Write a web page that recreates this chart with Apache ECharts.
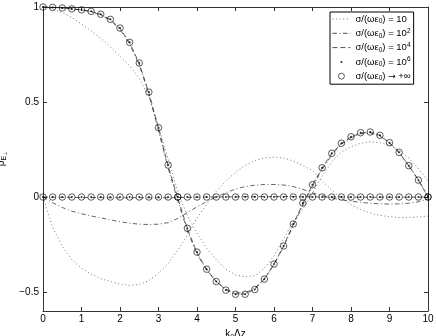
<!DOCTYPE html>
<html>
<head>
<meta charset="utf-8">
<script src="https://cdn.jsdelivr.net/npm/echarts@6/dist/echarts.min.js"></script>
<style>
  html, body { margin: 0; padding: 0; background: #fff; }
  #main { width: 436px; height: 336px; }
</style>
</head>
<body>
<div id="main"></div>
<script>
// k0*dz sample positions
const k = [0, 0.25, 0.5, 0.75, 1, 1.25, 1.5, 1.75, 2, 2.25, 2.5, 2.75, 3, 3.25, 3.5, 3.75, 4, 4.25, 4.5, 4.75,
  5, 5.25, 5.5, 5.75, 6, 6.25, 6.5, 6.75, 7, 7.25, 7.5, 7.75, 8, 8.25, 8.5, 8.75, 9, 9.25, 9.5, 9.75, 10];

// sigma/(w e0) = 10  (dotted)
const re10 = [1, 0.99, 0.97, 0.945, 0.91, 0.875, 0.835, 0.79, 0.74, 0.69, 0.625, 0.53, 0.37, 0.2, 0.03, -0.1, -0.19, -0.27, -0.33, -0.38,
  -0.41, -0.42, -0.415, -0.375, -0.31, -0.22, -0.13, -0.065, 0.02, 0.11, 0.185, 0.235, 0.265, 0.283, 0.291, 0.286, 0.272, 0.245, 0.205, 0.15, 0.085];
const im10 = [0, -0.16, -0.26, -0.33, -0.375, -0.405, -0.43, -0.445, -0.458, -0.465, -0.46, -0.44, -0.4, -0.35, -0.28, -0.2, -0.11, -0.04, 0.03, 0.085,
  0.13, 0.165, 0.192, 0.205, 0.21, 0.205, 0.19, 0.165, 0.14, 0.085, 0.035, -0.005, -0.04, -0.066, -0.085, -0.097, -0.104, -0.108, -0.108, -0.105, -0.1];

// sigma/(w e0) = 10^2  (dash-dot)
const re100 = [1, 0.998, 0.995, 0.99, 0.984, 0.975, 0.958, 0.93, 0.882, 0.805, 0.695, 0.54, 0.35, 0.152, -0.018, -0.178, -0.3, -0.385, -0.445, -0.485,
  -0.505, -0.505, -0.48, -0.43, -0.355, -0.26, -0.15, -0.042, 0.055, 0.145, 0.222, 0.277, 0.312, 0.333, 0.338, 0.322, 0.284, 0.233, 0.165, 0.09, 0.002];
const im100 = [0, -0.03, -0.055, -0.075, -0.088, -0.1, -0.11, -0.12, -0.13, -0.138, -0.143, -0.145, -0.143, -0.135, -0.113, -0.082, -0.052, -0.024, 0, 0.022,
  0.042, 0.055, 0.062, 0.066, 0.066, 0.063, 0.055, 0.04, 0.022, 0.008, -0.005, -0.015, -0.022, -0.028, -0.033, -0.036, -0.037, -0.036, -0.033, -0.025, -0.01];

// sigma/(w e0) = 10^4  (dashed)
const re1e4 = [1, 0.998, 0.995, 0.99, 0.985, 0.977, 0.961, 0.934, 0.888, 0.812, 0.703, 0.549, 0.362, 0.164, -0.004, -0.168, -0.292, -0.381, -0.445, -0.489,
  -0.511, -0.511, -0.486, -0.432, -0.354, -0.258, -0.143, -0.034, 0.064, 0.153, 0.229, 0.282, 0.316, 0.337, 0.341, 0.324, 0.286, 0.235, 0.165, 0.089, 0.001];
const im1e4 = [0, -0.001, -0.002, -0.002, -0.003, -0.003, -0.003, -0.004, -0.004, -0.004, -0.004, -0.004, -0.004, -0.004, -0.003, -0.002, -0.001, 0, 0, 0.001,
  0.001, 0.002, 0.002, 0.002, 0.002, 0.002, 0.002, 0.001, 0.001, 0, 0, 0, -0.001, -0.001, -0.001, -0.001, -0.001, -0.001, -0.001, -0.001, 0];

// sigma/(w e0) = 10^6  (dots) and -> +inf (circles)
const re1e6 = [1, 0.998, 0.995, 0.99, 0.985, 0.977, 0.962, 0.935, 0.889, 0.814, 0.705, 0.552, 0.365, 0.168, 0, -0.165, -0.29, -0.38, -0.445, -0.49,
  -0.512, -0.512, -0.487, -0.432, -0.353, -0.258, -0.142, -0.032, 0.065, 0.154, 0.23, 0.283, 0.317, 0.338, 0.342, 0.325, 0.286, 0.235, 0.165, 0.089, 0];
const im1e6 = [0, 0, 0, 0, 0, 0, 0, 0, 0, 0, 0, 0, 0, 0, 0, 0, 0, 0, 0, 0,
  0, 0, 0, 0, 0, 0, 0, 0, 0, 0, 0, 0, 0, 0, 0, 0, 0, 0, 0, 0, 0];
const reInf = [1, 0.998, 0.995, 0.99, 0.985, 0.977, 0.962, 0.935, 0.889, 0.814, 0.705, 0.552, 0.365, 0.168, 0, -0.165, -0.29, -0.38, -0.445, -0.49,
  -0.512, -0.512, -0.487, -0.432, -0.353, -0.258, -0.142, -0.032, 0.065, 0.154, 0.23, 0.283, 0.317, 0.338, 0.342, 0.325, 0.286, 0.235, 0.165, 0.089, 0];
const imInf = [0, 0, 0, 0, 0, 0, 0, 0, 0, 0, 0, 0, 0, 0, 0, 0, 0, 0, 0, 0,
  0, 0, 0, 0, 0, 0, 0, 0, 0, 0, 0, 0, 0, 0, 0, 0, 0, 0, 0, 0, 0];

const yTicks = [-0.5, 0, 0.5, 1];

const legendText = {
  s10: '{a|σ/(ωε}{sub|0}{a|) = 10}',
  s100: '{a|σ/(ωε}{sub|0}{a|) = 10}{sup|2}',
  s1e4: '{a|σ/(ωε}{sub|0}{a|) = 10}{sup|4}',
  s1e6: '{a|σ/(ωε}{sub|0}{a|) = 10}{sup|6}',
  sInf: '{a|σ/(ωε}{sub|0}{a|) }{b|→}{a| +∞}'
};

const pair = (ys) => k.map((x, i) => [x, ys[i]]);
const FONT = 'Liberation Sans, Arial, sans-serif';

const DOTTED = [1, 2.6];
const DASHDOT = [4.5, 2.5, 1, 2.5];
const DASHED = [5, 3];

const lineSeries = (name, ys, type, width, color) => ({
  name: name,
  type: 'line',
  data: pair(ys),
  symbol: 'none',
  clip: false,
  lineStyle: { color: color, width: width, type: type },
  itemStyle: { color: color },
  z: 2
});

const myChart = echarts.init(document.getElementById('main'));
const option = {
  backgroundColor: '#fff',
  animation: false,
  textStyle: { fontFamily: FONT },
  grid: { left: 43, right: 8, top: 7, bottom: 25, outerBoundsMode: 'none', containLabel: false },
  legend: {
    orient: 'vertical',
    left: 330,
    top: 12,
    backgroundColor: '#fff',
    borderColor: '#000',
    borderWidth: 1,
    borderRadius: 0,
    padding: [1, 3, 2, 2],
    itemWidth: 18,
    itemHeight: 8,
    itemGap: 2.3,
    selectedMode: false,
    data: [
      { name: 's10', itemStyle: { opacity: 0 }, lineStyle: { width: 0.8, color: '#555', type: DOTTED } },
      { name: 's100', itemStyle: { opacity: 0 }, lineStyle: { width: 0.8, color: '#222', type: DASHDOT } },
      { name: 's1e4', itemStyle: { opacity: 0 }, lineStyle: { width: 0.8, color: '#222', type: DASHED } },
      { name: 's1e6', icon: 'path://M0,0M8,8M4,3A1,1 0 1,1 4,5A1,1 0 1,1 4,3Z', itemStyle: { color: '#000' } },
      { name: 'sInf', icon: 'path://M0,0M8,8M4,1A3,3 0 1,1 4,7A3,3 0 1,1 4,1Z',
        itemStyle: { color: 'rgba(0,0,0,0)', borderColor: '#000', borderWidth: 0.8 } }
    ],
    formatter: (name) => legendText[name],
    textStyle: {
      fontFamily: FONT,
      fontSize: 9.5,
      color: '#000',
      rich: {
        a: { fontFamily: FONT, fontSize: 9.5, color: '#000', lineHeight: 11 },
        b: { fontFamily: 'DejaVu Sans, sans-serif', fontSize: 9, color: '#000', lineHeight: 11 },
        sub: { fontFamily: FONT, fontSize: 6.5, color: '#000', lineHeight: 11, padding: [5, 0, 0, 0] },
        sup: { fontFamily: FONT, fontSize: 6.5, color: '#000', lineHeight: 11, padding: [0, 0, 5, 0] }
      }
    }
  },
  xAxis: [{
    type: 'value',
    min: 0,
    max: 10,
    interval: 1,
    name: '{a|k}{sub|0}{a|Δz}',
    nameLocation: 'middle',
    nameGap: 13,
    nameTextStyle: {
      rich: {
        a: { fontFamily: FONT, fontSize: 10, color: '#000' },
        sub: { fontFamily: FONT, fontSize: 7, color: '#000', padding: [6, 0, 0, 0] }
      }
    },
    axisLine: { show: true, onZero: false, lineStyle: { color: '#333', width: 1 } },
    axisTick: { show: true, inside: true, length: 4, lineStyle: { color: '#333' } },
    axisLabel: { show: true, color: '#000', fontSize: 10, fontFamily: FONT, margin: 3 },
    splitLine: { show: false }
  }, {
    type: 'value',
    position: 'top',
    min: 0,
    max: 10,
    interval: 1,
    axisLine: { show: true, onZero: false, lineStyle: { color: '#333', width: 1 } },
    axisTick: { show: true, inside: true, length: 4, lineStyle: { color: '#333' } },
    axisLabel: { show: false },
    splitLine: { show: false }
  }],
  yAxis: [{
    type: 'value',
    min: -0.6,
    max: 1,
    name: '{a|ρ}{sub|E}{sub2|⊥}',
    nameLocation: 'middle',
    nameRotate: 90,
    nameGap: 26,
    nameTextStyle: {
      rich: {
        a: { fontFamily: FONT, fontSize: 10, color: '#000' },
        sub: { fontFamily: FONT, fontSize: 7, color: '#000', padding: [5, 0, 0, 0] },
        sub2: { fontFamily: FONT, fontSize: 5, color: '#000', padding: [9, 0, 0, 0] }
      }
    },
    axisLine: { show: true, onZero: false, lineStyle: { color: '#333', width: 1 } },
    axisTick: { show: true, inside: true, length: 4, customValues: yTicks, lineStyle: { color: '#333' } },
    axisLabel: {
      show: true, color: '#000', fontSize: 10, fontFamily: FONT, margin: 4,
      customValues: yTicks,
      formatter: (v) => (v < 0 ? '−' + String(-v) : String(v))
    },
    splitLine: { show: false }
  }, {
    type: 'value',
    position: 'right',
    min: -0.6,
    max: 1,
    axisLine: { show: true, onZero: false, lineStyle: { color: '#333', width: 1 } },
    axisTick: { show: true, inside: true, length: 4, customValues: yTicks, lineStyle: { color: '#333' } },
    axisLabel: { show: false },
    splitLine: { show: false }
  }],
  series: [
    lineSeries('s10', re10, DOTTED, 0.8, '#555'),
    lineSeries('s10', im10, DOTTED, 0.8, '#555'),
    lineSeries('s100', re100, DASHDOT, 0.7, '#222'),
    lineSeries('s100', im100, DASHDOT, 0.7, '#222'),
    lineSeries('s1e4', re1e4, DASHED, 0.7, '#222'),
    lineSeries('s1e4', im1e4, DASHED, 0.7, '#222'),
    {
      name: 's1e6', type: 'scatter', data: pair(re1e6), symbol: 'circle', symbolSize: 2,
      itemStyle: { color: '#000' }, clip: false, z: 4
    },
    {
      name: 's1e6', type: 'scatter', data: pair(im1e6), symbol: 'circle', symbolSize: 2,
      itemStyle: { color: '#000' }, clip: false, z: 4
    },
    {
      name: 'sInf', type: 'scatter', data: pair(reInf), symbol: 'circle', symbolSize: 6.5,
      itemStyle: { color: 'rgba(0,0,0,0)', borderColor: '#000', borderWidth: 0.8 }, clip: false, z: 3
    },
    {
      name: 'sInf', type: 'scatter', data: pair(imInf), symbol: 'circle', symbolSize: 6.5,
      itemStyle: { color: 'rgba(0,0,0,0)', borderColor: '#000', borderWidth: 0.8 }, clip: false, z: 3
    }
  ]
};
myChart.setOption(option);
</script>
</body>
</html>
